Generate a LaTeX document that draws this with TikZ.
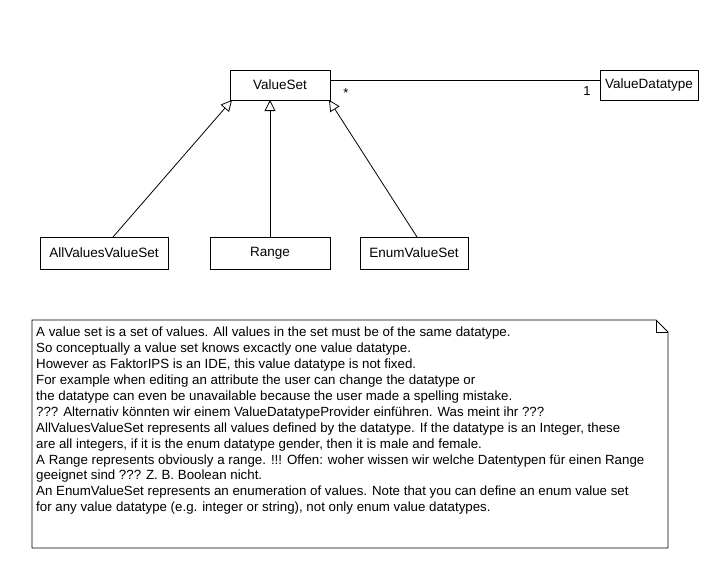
\documentclass[tikz,border=0pt]{standalone}
\usepackage{fontspec}
\setmainfont{Liberation Sans}
\usetikzlibrary{arrows.meta}
\begin{document}
\begin{tikzpicture}[x=1pt,y=-1pt,
  cls/.style={draw,line width=0.8pt,minimum height=30pt,inner sep=0pt,font=\fontsize{13.5}{15}\selectfont},
  gen/.style={line width=0.8pt,-{Triangle[open,length=11pt,width=11pt]}},
  lbl/.style={font=\fontsize{13}{15}\selectfont,inner sep=0pt}]
\useasboundingbox (0,0) rectangle (720,570);
\node[cls,minimum width=100pt] (vs) at (280,85) {ValueSet};
\node[cls,minimum width=98pt] (vd) at (649,85) {ValueDatatype};
\node[cls,minimum width=128pt,minimum height=32pt] (all) at (104,253) {AllValuesValueSet};
\node[cls,minimum width=120pt,minimum height=32pt] (rg) at (270,253) {Range};
\node[cls,minimum width=108pt,minimum height=32pt] (en) at (414,253) {EnumValueSet};
\coordinate (a1) at (330,80);
\coordinate (a2) at (600,80);
\draw[line width=0.8pt] (a1) -- (a2);
\node[lbl] (m1) at (346,93) {*};
\node[lbl] (m2) at (587,91) {1};
\coordinate (t1) at (232,100);
\coordinate (t2) at (270,100);
\coordinate (t3) at (329,100);
\coordinate (s1) at (113,237);
\coordinate (s3) at (417,237);
\draw[gen] (s1) -- (t1);
\draw[gen] (rg.north) -- (t2);
\draw[gen] (s3) -- (t3);
\draw[line width=0.8pt] (32,320) -- (656,320) -- (668,332) -- (668,548) -- (32,548) -- cycle;
\draw[line width=0.8pt] (656,320) -- (656,332) -- (668,332);
\node[anchor=north west,align=left,inner sep=0pt,font=\fontsize{13.3}{15.9}\selectfont] (note) at (36,327) {%
A value set is a set of values. All values in the set must be of the same datatype.\\
So conceptually a value set knows excactly one value datatype.\\
However as FaktorIPS is an IDE, this value datatype is not fixed.\\
For example when editing an attribute the user can change the datatype or\\
the datatype can even be unavailable because the user made a spelling mistake.\\
??? Alternativ könnten wir einem ValueDatatypeProvider einführen. Was meint ihr ???\\
AllValuesValueSet represents all values defined by the datatype. If the datatype is an Integer, these\\
are all integers, if it is the enum datatype gender, then it is male and female.\\
A Range represents obviously a range. !!! Offen: woher wissen wir welche Datentypen für einen Range\\
geeignet sind ??? Z. B. Boolean nicht.\\
An EnumValueSet represents an enumeration of values. Note that you can define an enum value set\\
for any value datatype (e.g. integer or string), not only enum value datatypes.};
\end{tikzpicture}
\end{document}
